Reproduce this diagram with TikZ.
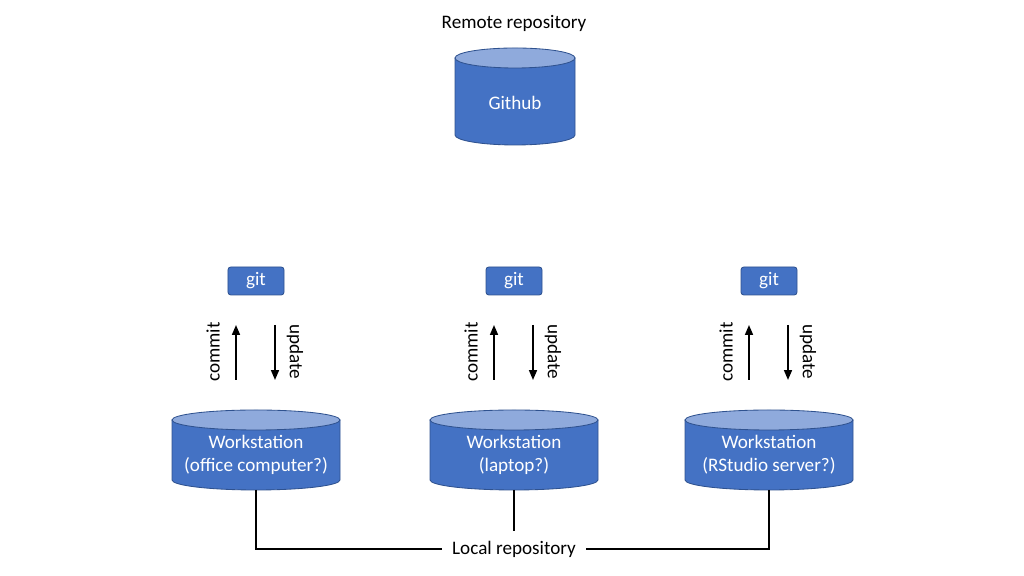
\documentclass[tikz,border=0pt]{standalone}
\usepackage{fontspec}
\setmainfont{Carlito}
\usetikzlibrary{arrows.meta}
\definecolor{repoblue}{HTML}{4472C4}
\definecolor{repotop}{HTML}{8FAADC}
\definecolor{repoedge}{HTML}{2F528F}

\begin{document}
\begin{tikzpicture}[x=0.025cm, y=0.025cm, font=\fontsize{13.6}{16.2}\selectfont,
    cylbody/.style={fill=repoblue, draw=repoedge, line width=0.6pt},
    cyltop/.style={fill=repotop, draw=repoedge, line width=0.6pt},
    gitbox/.style={fill=repoblue, draw=repoedge, line width=0.6pt, rounded corners=2pt,
      minimum width=1.4cm, minimum height=0.7cm, text=white},
    flow/.style={line width=1.2pt, -{Triangle[length=7pt, width=5.6pt]}},
    link/.style={line width=1pt}]
      \useasboundingbox (0,0) rectangle (1024,576);
      \node (remote) at (514,553) {Remote repository};
      \fill[cylbody] (455,518) -- (455,441) arc[start angle=180, end angle=360, x radius=60, y radius=10] -- (575,518) -- cycle;
      \filldraw[cyltop] (515,518) ellipse [x radius=60, y radius=10];
      \node[text=white] (github) at (515,473) {Github};
      \foreach \cx/\name/\where in {256/wsa/{office computer?}, 514/wsb/{laptop?}, 769/wsc/{RStudio server?}}{
      \fill[cylbody] (\cx-84,156) -- (\cx-84,96) arc[start angle=180, end angle=360, x radius=84, y radius=10] -- (\cx+84,156) -- cycle;
      \filldraw[cyltop] (\cx,156) ellipse [x radius=84, y radius=10];
      \node[text=white, align=center] (\name) at (\cx,121) {Workstation\\(\where)};
      \coordinate (base\name) at (\cx,86);
      \node[gitbox] (git\name) at (\cx,295) {git};
      \coordinate (low\name) at (\cx-20,196);
      \coordinate (high\name) at (\cx-20,251);
      \draw[flow] (low\name) -- (high\name);
      \coordinate (up\name) at (\cx+19,251);
      \coordinate (down\name) at (\cx+19,196);
      \draw[flow] (up\name) -- (down\name);
      \node[rotate=90] (commit\name) at (\cx-43,224) {commit};
      \node[rotate=-90] (update\name) at (\cx+39,224) {update};
      }
      \node[inner sep=0.25cm] (local) at (514,27) {Local repository};
      \draw[link] (basewsa) |- (local.west);
      \draw[link] (basewsc) |- (local.east);
      \draw[link] (basewsb) -- (local.north);
  \end{tikzpicture}
\end{document}
